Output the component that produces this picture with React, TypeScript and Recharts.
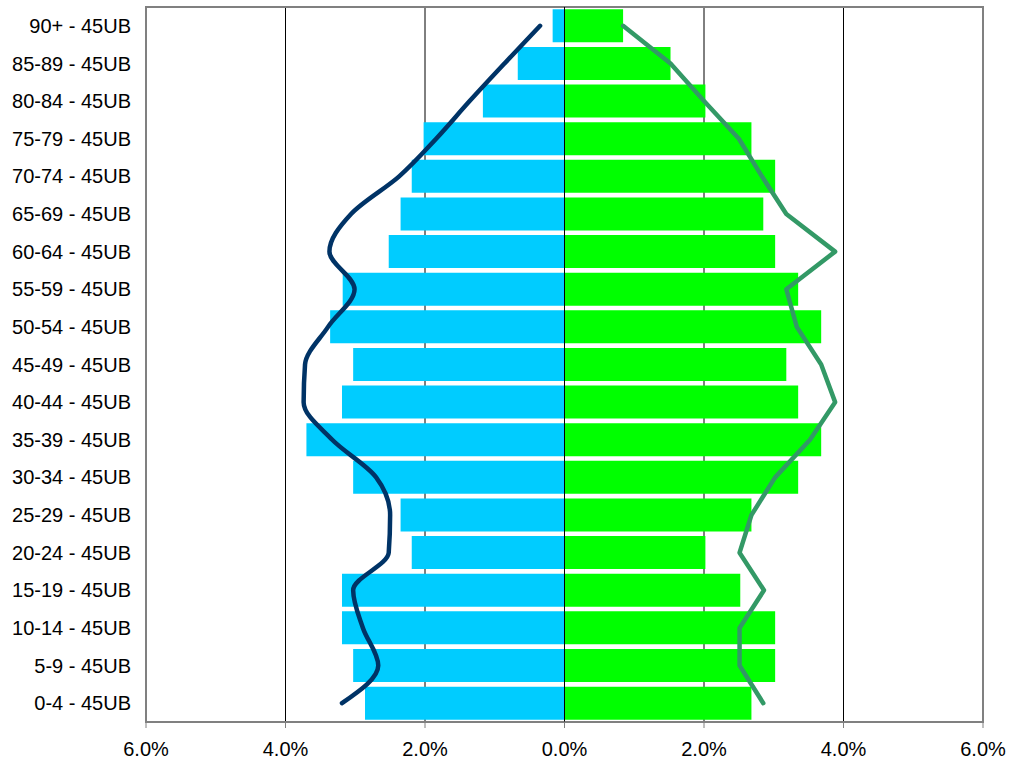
import { ComposedChart, Bar, Line, XAxis, YAxis, CartesianGrid, ReferenceLine, ReferenceArea } from "recharts"

// age bands, bottom (youngest) to top
const ageGroups = [
  "0-4 - 45UB", "5-9 - 45UB", "10-14 - 45UB", "15-19 - 45UB", "20-24 - 45UB",
  "25-29 - 45UB", "30-34 - 45UB", "35-39 - 45UB", "40-44 - 45UB", "45-49 - 45UB",
  "50-54 - 45UB", "55-59 - 45UB", "60-64 - 45UB", "65-69 - 45UB", "70-74 - 45UB",
  "75-79 - 45UB", "80-84 - 45UB", "85-89 - 45UB", "90+ - 45UB",
]

// percent of population
const maleShare = [2.86, 3.03, 3.19, 3.19, 2.19, 2.35, 3.03, 3.70, 3.19, 3.03, 3.36, 3.18, 2.52, 2.35, 2.19, 2.02, 1.17, 0.67, 0.17]
const femaleShare = [2.68, 3.02, 3.02, 2.52, 2.02, 2.68, 3.35, 3.68, 3.35, 3.18, 3.68, 3.35, 3.02, 2.85, 3.02, 2.68, 2.02, 1.52, 0.84]

// comparison profile (lines)
const maleCompare = [3.19, 2.67, 2.89, 3.03, 2.52, 2.50, 2.70, 3.33, 3.74, 3.72, 3.39, 3.01, 3.37, 3.06, 2.37, 1.84, 1.36, 0.86, 0.35]
const femaleCompare = [2.85, 2.51, 2.51, 2.86, 2.51, 2.68, 3.02, 3.52, 3.88, 3.68, 3.33, 3.18, 3.88, 3.18, 2.83, 2.50, 2.00, 1.52, 0.84]

const xTicks = [-6, -4, -2, 0, 2, 4, 6]

const data = ageGroups.map((age, i) => ({
  age,
  male: -maleShare[i],
  female: femaleShare[i],
  maleLine: -maleCompare[i],
  femaleLine: femaleCompare[i],
}))

const fmtPct = (v: number) => `${Math.abs(v).toFixed(1)}%`

const font = { fontFamily: "'Liberation Sans', Arial, sans-serif", fontSize: 20, fill: "#000" }

export default function App() {
  return (
    <div style={{ position: "absolute", top: 0, left: 0, background: "#fff" }}>
      <ComposedChart
        width={1009}
        height={766}
        data={data}
        layout="vertical"
        stackOffset="sign"
        barCategoryGap="6%"
        margin={{ top: 7, right: 26, bottom: 4, left: 0 }}
      >
        <CartesianGrid horizontal={false} stroke="#000" strokeWidth={1} />
        <XAxis
          type="number"
          domain={[-6, 6]}
          ticks={xTicks}
          tickFormatter={fmtPct}
          allowDataOverflow
          height={40}
          stroke="#808080"
          tick={font}
          tickSize={6}
          tickMargin={14}
        />
        <YAxis
          type="category"
          dataKey="age"
          reversed
          width={146}
          axisLine={false}
          tickLine={false}
          tick={font}
          tickSize={6}
          tickMargin={9}
          interval={0}
        />
        <ReferenceArea x1={-6} x2={6} fill="none" stroke="#808080" strokeWidth={2} />
        <Bar dataKey="male" stackId="pop" fill="#00CCFF" isAnimationActive={false} />
        <Bar dataKey="female" stackId="pop" fill="#00FF00" isAnimationActive={false} />
        <ReferenceLine x={0} stroke="#000" strokeWidth={1} />
        <Line
          dataKey="maleLine"
          type="monotone"
          stroke="#003366"
          strokeWidth={4.5}
          strokeLinecap="round"
          strokeLinejoin="round"
          dot={false}
          isAnimationActive={false}
        />
        <Line
          dataKey="femaleLine"
          type="linear"
          stroke="#339966"
          strokeWidth={4.5}
          strokeLinecap="round"
          strokeLinejoin="round"
          dot={false}
          isAnimationActive={false}
        />
      </ComposedChart>
    </div>
  )
}
